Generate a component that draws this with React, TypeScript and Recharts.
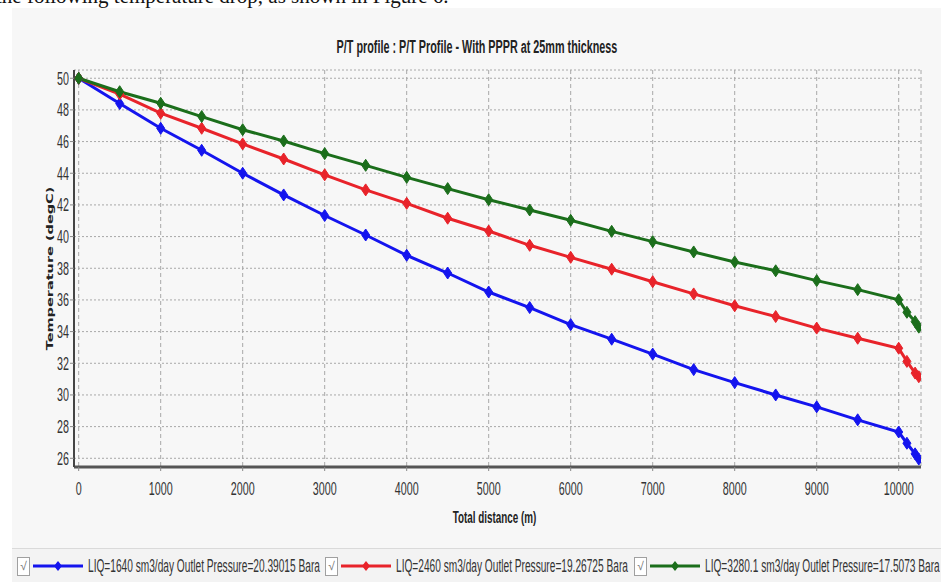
import React from "react";
import { LineChart, Line, XAxis, YAxis, CartesianGrid, Legend } from "recharts";

// distance along the pipe (m)
const distance = [
  0, 500, 1000, 1500, 2000, 2500, 3000, 3500, 4000, 4500, 5000, 5500, 6000,
  6500, 7000, 7500, 8000, 8500, 9000, 9500, 10000, 10100, 10200, 10245,
];

// temperature (degC) per case
const tempLiq1640 = [
  50, 48.4, 46.84, 45.45, 44.0, 42.63, 41.33, 40.1, 38.82, 37.7, 36.5, 35.52,
  34.44, 33.52, 32.58, 31.6, 30.78, 30.0, 29.25, 28.43, 27.66, 26.95, 26.28, 25.95,
];
const tempLiq2460 = [
  50, 49.0, 47.79, 46.84, 45.85, 44.9, 43.9, 42.95, 42.1, 41.16, 40.35, 39.45,
  38.69, 37.94, 37.15, 36.38, 35.63, 34.95, 34.22, 33.58, 32.95, 32.12, 31.38, 31.15,
];
const tempLiq3280 = [
  50, 49.15, 48.42, 47.58, 46.75, 46.04, 45.24, 44.5, 43.74, 43.03, 42.33, 41.68,
  41.03, 40.33, 39.68, 39.03, 38.4, 37.84, 37.22, 36.65, 36.01, 35.22, 34.63, 34.28,
];

const seriesNames = [
  "LIQ=1640 sm3/day Outlet Pressure=20.39015 Bara",
  "LIQ=2460 sm3/day Outlet Pressure=19.26725 Bara",
  "LIQ=3280.1 sm3/day Outlet Pressure=17.5073 Bara",
];

const xTicks = [0, 1000, 2000, 3000, 4000, 5000, 6000, 7000, 8000, 9000, 10000];
const yTicks = [26, 28, 30, 32, 34, 36, 38, 40, 42, 44, 46, 48, 50];

const COLORS = ["#1414ee", "#e8232a", "#1b6e1b"];
const SX = 0.58; // the screenshot is squeezed horizontally
const FONT = "'Liberation Sans', Arial, sans-serif";

const data = distance.map((d, i) => ({
  d,
  s1: tempLiq1640[i],
  s2: tempLiq2460[i],
  s3: tempLiq3280[i],
}));

function Diamond(props: any) {
  const { cx, cy, stroke } = props;
  if (cx == null || cy == null) return null;
  return (
    <polygon
      points={`${cx},${cy - 6} ${cx + 4},${cy} ${cx},${cy + 6} ${cx - 4},${cy}`}
      fill={stroke}
      stroke={stroke}
      strokeWidth={1}
    />
  );
}

function XTick(props: any) {
  const { x, y, payload } = props;
  return (
    <text
      transform={`translate(${x},${y + 22}) scale(${SX},1)`}
      textAnchor="middle"
      fontSize={18.5}
      fontFamily={FONT}
      fill="#333"
    >
      {payload.value}
    </text>
  );
}

function YTick(props: any) {
  const { x, y, payload } = props;
  return (
    <text
      transform={`translate(${x + 1},${y + 6.5}) scale(${SX},1)`}
      textAnchor="end"
      fontSize={18.5}
      fontFamily={FONT}
      fill="#333"
    >
      {payload.value}
    </text>
  );
}

function XLabel(props: any) {
  const vb = props.viewBox || { x: 0, y: 0, width: 0 };
  return (
    <text
      transform={`translate(${vb.x + vb.width / 2 - 3},${vb.y + 56}) scale(${SX},1)`}
      textAnchor="middle"
      fontSize={17}
      fontWeight="bold"
      fontFamily={FONT}
      fill="#222"
    >
      Total distance (m)
    </text>
  );
}

function YLabel(props: any) {
  const vb = props.viewBox || { x: 0, y: 0, height: 0 };
  const cx = vb.x + 50;
  const cy = vb.y + vb.height / 2;
  return (
    <text
      transform={`translate(${cx},${cy}) rotate(-90) scale(1,0.64)`}
      textAnchor="middle"
      dy="0.35em"
      fontSize={14.5}
      fontWeight="bold"
      fontFamily="'DejaVu Sans', Verdana, sans-serif"
      fill="#222"
    >
      Temperature (degC)
    </text>
  );
}

const legendLeft = [17, 325, 634];

function renderLegend() {
  return (
    <div
      style={{
        position: "relative",
        height: 34,
        borderTop: "1px solid #dadada",
        background: "#f3f3f3",
        marginLeft: 12,
      }}
    >
      {seriesNames.map((name, i) => (
        <div
          key={name}
          style={{
            position: "absolute",
            left: legendLeft[i] - 12,
            top: 7,
            height: 20,
            display: "flex",
            alignItems: "center",
            whiteSpace: "nowrap",
          }}
        >
          <div
            style={{
              width: 11,
              height: 17,
              border: "1px solid #a0a0a0",
              background: "#fff",
              fontSize: 12,
              lineHeight: "17px",
              textAlign: "center",
              color: "#777",
              fontFamily: FONT,
            }}
          >
            √
          </div>
          <svg width={52} height={16} style={{ marginLeft: 2 }}>
            <line x1={1} y1={8} x2={51} y2={8} stroke={COLORS[i]} strokeWidth={3} />
            <polygon points="26,3 30,8 26,13 22,8" fill={COLORS[i]} />
          </svg>
          <span
            style={{
              display: "inline-block",
              marginLeft: 4,
              fontSize: 17.5,
              fontFamily: FONT,
              color: "#333",
              transform: `scaleX(${SX})`,
              transformOrigin: "left center",
            }}
          >
            {name}
          </span>
        </div>
      ))}
    </div>
  );
}

export default function App() {
  return (
    <div
      style={{
        position: "absolute",
        left: 0,
        top: 0,
        width: 941,
        height: 582,
        overflow: "hidden",
        background: "#fff",
      }}
    >
      <div
        style={{
          position: "absolute",
          left: -4,
          top: -16,
          fontSize: 21,
          fontFamily: "'Liberation Serif', 'Times New Roman', serif",
          color: "#111",
          whiteSpace: "nowrap",
        }}
      >
        the following temperature drop, as shown in Figure 6.
      </div>
      <div
        style={{
          position: "absolute",
          left: 12,
          top: 8,
          right: 0,
          bottom: 0,
          background: "#f7f7f7",
        }}
      />
      <div
        style={{
          position: "absolute",
          left: 476.5,
          top: 37,
          fontSize: 18,
          lineHeight: "20px",
          fontWeight: "bold",
          fontFamily: FONT,
          color: "#222",
          whiteSpace: "nowrap",
          transform: `translateX(-50%) scaleX(0.6)`,
        }}
      >
        P/T profile : P/T Profile - With PPPR at 25mm thickness
      </div>
      <div style={{ position: "absolute", left: 0, top: 0 }}>
        <LineChart
          width={941}
          height={582}
          data={data}
          margin={{ top: 70, right: 20, bottom: 0, left: 0 }}
        >
          <CartesianGrid horizontal={false} stroke="#a8a8a8" strokeDasharray="4 3" />
          <CartesianGrid vertical={false} stroke="#a8a8a8" strokeDasharray="2 2" />
          <XAxis
            dataKey="d"
            type="number"
            domain={[-57, 10272]}
            ticks={xTicks}
            allowDataOverflow
            height={81}
            tickSize={4}
            tick={<XTick />}
            axisLine={{ stroke: "#555", strokeWidth: 3 }}
            tickLine={{ stroke: "#888" }}
            label={<XLabel />}
          />
          <XAxis
            xAxisId="top"
            orientation="top"
            type="number"
            domain={[-57, 10272]}
            height={0}
            tick={false}
            tickLine={false}
            axisLine={{ stroke: "#555", strokeWidth: 2 }}
          />
          <YAxis
            type="number"
            domain={[25.45, 50.52]}
            ticks={yTicks}
            allowDataOverflow
            width={74}
            tickSize={4}
            tick={<YTick />}
            axisLine={{ stroke: "#444", strokeWidth: 2 }}
            tickLine={{ stroke: "#888" }}
            label={<YLabel />}
          />
          <YAxis
            yAxisId="right"
            orientation="right"
            type="number"
            domain={[25.45, 50.52]}
            width={0}
            tick={false}
            tickLine={false}
            axisLine={{ stroke: "#555", strokeWidth: 2 }}
          />
          <Legend
            verticalAlign="bottom"
            content={renderLegend}
            wrapperStyle={{ left: 0, width: 941, height: 34, bottom: 0 }}
          />
          <Line
            dataKey="s1"
            name={seriesNames[0]}
            stroke={COLORS[0]}
            strokeWidth={3}
            dot={<Diamond />}
            isAnimationActive={false}
          />
          <Line
            dataKey="s2"
            name={seriesNames[1]}
            stroke={COLORS[1]}
            strokeWidth={3}
            dot={<Diamond />}
            isAnimationActive={false}
          />
          <Line
            dataKey="s3"
            name={seriesNames[2]}
            stroke={COLORS[2]}
            strokeWidth={3}
            dot={<Diamond />}
            isAnimationActive={false}
          />
        </LineChart>
      </div>
    </div>
  );
}
